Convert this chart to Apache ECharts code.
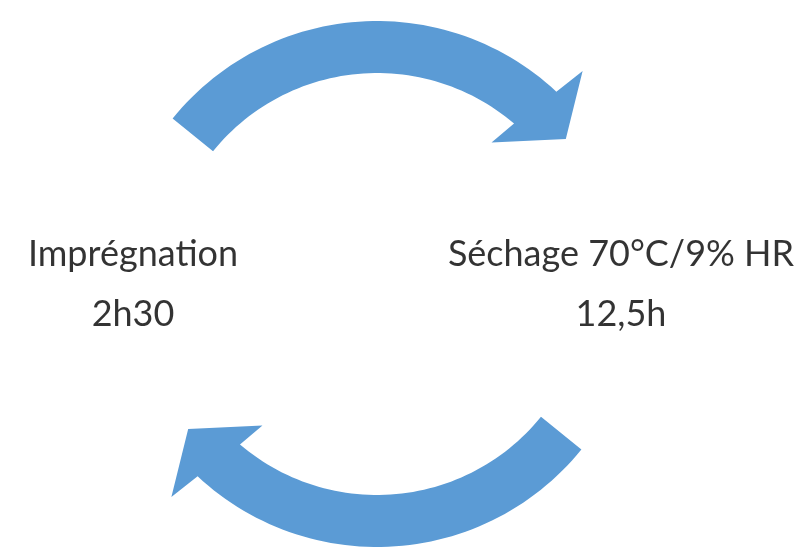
<!DOCTYPE html>
<html>
<head>
<meta charset="utf-8">
<script src="https://cdn.jsdelivr.net/npm/echarts@6/dist/echarts.min.js"></script>
<style>
html, body { margin: 0; padding: 0; background: #fff; }
#main { width: 807px; height: 558px; }
</style>
</head>
<body>
<div id="main"></div>
<script>
// étapes du cycle
var stages = ['Imprégnation', 'Séchage 70°C/9% HR'];
var durations = ['2h30', '12,5h'];
// position angulaire des étiquettes (degrés)
var stageAngles = [180, 0];

// flèches : angle de départ -> angle d'arrivée (degrés)
var arrowFrom = [141, 321];
var arrowTo = [48, 228];

var myChart = echarts.init(document.getElementById('main'));

function arrowItem(params, api) {
    var from = api.value(0);
    var to = api.value(1);
    var rIn = 211, rOut = 263;
    var pts = [];
    var n = 60, i, a;
    // bord extérieur
    for (i = 0; i <= n; i++) {
        a = from + (to - 1 - from) * i / n;
        pts.push(api.coord([rOut, a]));
    }
    // pointe
    pts.push(api.coord([296, to - 2]));
    pts.push(api.coord([238, to - 10.5]));
    pts.push(api.coord([182, to + 3]));
    // bord intérieur (retour)
    for (i = n; i >= 0; i--) {
        a = from + (to + 1.5 - from) * i / n;
        pts.push(api.coord([rIn, a]));
    }
    return {
        type: 'polygon',
        shape: { points: pts },
        style: { fill: '#5B9BD5' }
    };
}

var option = {
    backgroundColor: '#fff',
    animation: false,
    polar: {
        center: [377, 284],
        radius: 300
    },
    radiusAxis: {
        type: 'value',
        min: 0,
        max: 300,
        show: false
    },
    angleAxis: {
        type: 'value',
        min: 0,
        max: 360,
        startAngle: 0,
        clockwise: false,
        show: false
    },
    series: [
        {
            type: 'custom',
            coordinateSystem: 'polar',
            renderItem: arrowItem,
            data: arrowFrom.map(function (f, i) { return [f, arrowTo[i]]; }),
            silent: true
        },
        {
            type: 'scatter',
            coordinateSystem: 'polar',
            symbolSize: 0,
            data: stages.map(function (s, i) {
                return { value: [244, stageAngles[i]], name: s, dur: durations[i] };
            }),
            label: {
                show: true,
                position: 'inside',
                formatter: function (p) {
                    return '{a|' + p.name + '}\n{b|' + p.data.dur + '}';
                },
                rich: {
                    a: { fontFamily: 'Lato', fontSize: 36, color: '#000', lineHeight: 60 },
                    b: { fontFamily: 'Lato', fontSize: 36, color: '#000', lineHeight: 60 }
                }
            },
            silent: true
        }
    ]
};

myChart.setOption(option);
</script>
</body>
</html>
